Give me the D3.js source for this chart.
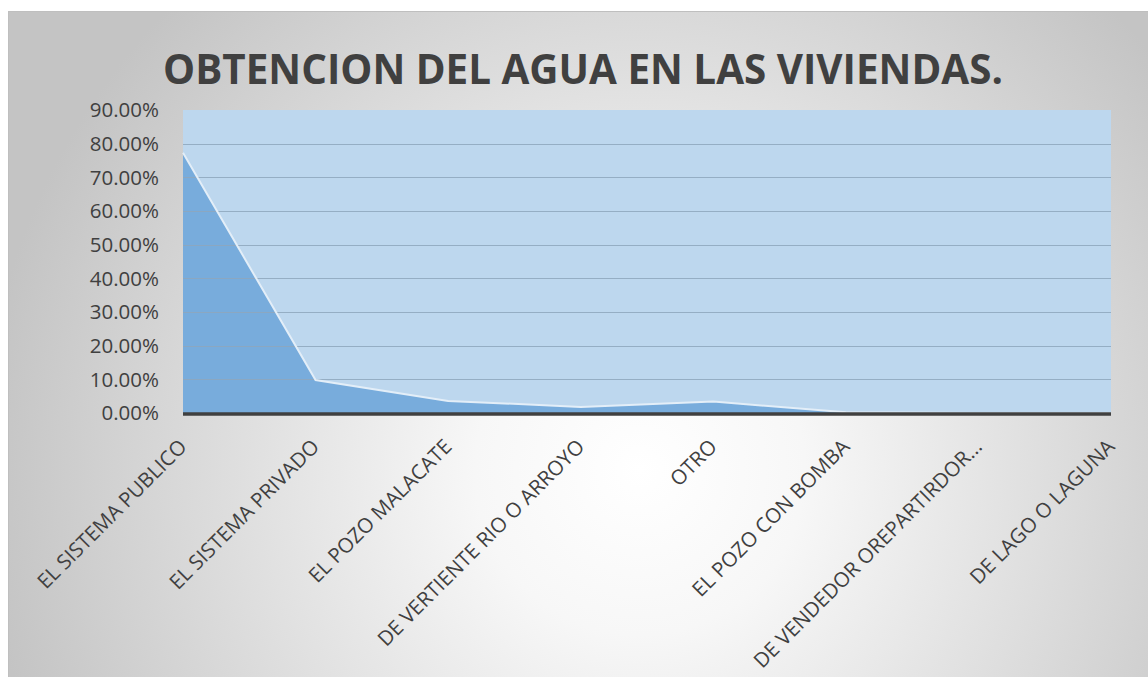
<!DOCTYPE html>
<html lang="es">
<head>
<meta charset="utf-8">
<title>Obtencion del agua en las viviendas</title>
<script src="https://d3js.org/d3.v7.min.js"></script>
<style>
  body { margin: 0; background: #fff; }
  svg { display: block; }
  .tick-y { font-family: "Open Sans", sans-serif; font-size: 20.5px; fill: #404040; }
  .tick-x { font-family: "Open Sans", sans-serif; font-size: 20.5px; fill: #404040; }
  .title { font-family: "Open Sans", sans-serif; font-weight: bold; fill: #404040; }
</style>
</head>
<body>
<script>
// data
var categories = ["EL SISTEMA PUBLICO", "EL SISTEMA PRIVADO", "EL POZO MALACATE",
  "DE VERTIENTE RIO O ARROYO", "OTRO", "EL POZO CON BOMBA",
  "DE VENDEDOR OREPARTIRDOR...", "DE LAGO O LAGUNA"];
var values = [0.773, 0.098, 0.036, 0.018, 0.034, 0.002, 0, 0];
var yTicks = [0, 0.1, 0.2, 0.3, 0.4, 0.5, 0.6, 0.7, 0.8, 0.9];
var chartTitle = "OBTENCION DEL AGUA EN LAS VIVIENDAS.";

var width = 1148, height = 677;
var plot = { left: 183, right: 1111, top: 110, bottom: 413 };

var svg = d3.select("body").append("svg")
  .attr("width", width)
  .attr("height", height);

var defs = svg.append("defs");
var bg = defs.append("radialGradient")
  .attr("id", "bg")
  .attr("gradientUnits", "userSpaceOnUse")
  .attr("cx", 640).attr("cy", 470).attr("r", 660);
bg.append("stop").attr("offset", 0).attr("stop-color", "#ffffff");
bg.append("stop").attr("offset", 0.25).attr("stop-color", "#f7f7f7");
bg.append("stop").attr("offset", 1).attr("stop-color", "#c4c4c4");

// chart frame
svg.append("rect")
  .attr("x", 8.5).attr("y", 11.5)
  .attr("width", width).attr("height", height)
  .attr("fill", "url(#bg)")
  .attr("stroke", "#bfbfbf");

var x = d3.scalePoint().domain(categories).range([plot.left, plot.right]);
var y = d3.scaleLinear().domain([0, 0.9]).range([plot.bottom, plot.top]);

// plot background
svg.append("rect")
  .attr("x", plot.left).attr("y", plot.top)
  .attr("width", plot.right - plot.left)
  .attr("height", plot.bottom - plot.top)
  .attr("fill", "#bdd7ee");

// area
var area = d3.area()
  .x(function(d, i) { return x(categories[i]); })
  .y0(y(0))
  .y1(function(d) { return y(d); });

svg.append("path")
  .datum(values)
  .attr("d", area)
  .attr("fill", "#78acdc");

// gridlines
svg.append("g").selectAll("line")
  .data(yTicks.filter(function(d) { return d > 0 && d < 0.9; }))
  .enter().append("line")
  .attr("x1", plot.left).attr("x2", plot.right)
  .attr("y1", function(d) { return Math.round(y(d)) + 0.5; })
  .attr("y2", function(d) { return Math.round(y(d)) + 0.5; })
  .attr("stroke", "#8fa7bd")
  .attr("stroke-width", 1.2)
  .attr("opacity", 0.85);

// light edge along the top of the area
var edge = d3.line()
  .x(function(d, i) { return x(categories[i]); })
  .y(function(d) { return y(d); });

svg.append("path")
  .datum(values)
  .attr("d", edge)
  .attr("fill", "none")
  .attr("stroke", "#e3eef8")
  .attr("stroke-width", 2);

// base axis line
svg.append("line")
  .attr("x1", plot.left).attr("x2", plot.right)
  .attr("y1", plot.bottom + 1).attr("y2", plot.bottom + 1)
  .attr("stroke", "#404040")
  .attr("stroke-width", 3.5);

// y tick labels
svg.append("g").selectAll("text")
  .data(yTicks)
  .enter().append("text")
  .attr("class", "tick-y")
  .attr("x", 159)
  .attr("y", function(d) { return y(d); })
  .attr("dy", "0.35em")
  .attr("text-anchor", "end")
  .text(function(d) { return d3.format(".2%")(d); });

// x tick labels, rotated
svg.append("g").selectAll("text")
  .data(categories)
  .enter().append("text")
  .attr("class", "tick-x")
  .attr("text-anchor", "end")
  .attr("transform", function(d) {
    return "translate(" + (x(d) + 5) + "," + (plot.bottom + 35) + ") rotate(-45)";
  })
  .text(function(d) { return d; });

// title, sized to the width it takes in the picture
var title = svg.append("text")
  .attr("class", "title")
  .attr("x", 583)
  .attr("y", 84)
  .attr("text-anchor", "middle")
  .style("font-size", "46px")
  .text(chartTitle);
var tw = title.node().getComputedTextLength();
title.style("font-size", (46 * 840 / tw) + "px");
</script>
</body>
</html>
